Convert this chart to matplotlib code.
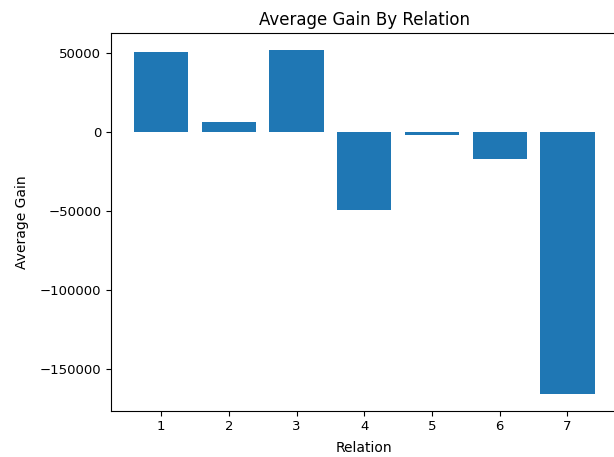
import matplotlib
matplotlib.use("Agg")
import matplotlib.pyplot as plt

relations = [1, 2, 3, 4, 5, 6, 7]
avg_gain = [50800, 6700, 52100, -49200, -1400, -17100, -165300]

DPI = 100
fig = plt.figure(figsize=(614 / DPI, 457 / DPI), dpi=DPI)
ax = fig.add_axes([111 / 614, (457 - 410.7) / 457, 506.6 / 614, 377.7 / 457])
ax.bar(relations, avg_gain, color="#1f77b4")
ax.set_title("Average Gain By Relation", fontsize=12)
ax.set_xlabel("Relation", fontsize=10, labelpad=5.5)
ax.set_ylabel("Average Gain", fontsize=10, labelpad=8)
ax.set_xticks(relations)
ax.tick_params(labelsize=9.5)
fig.savefig("out.png", dpi=DPI)
